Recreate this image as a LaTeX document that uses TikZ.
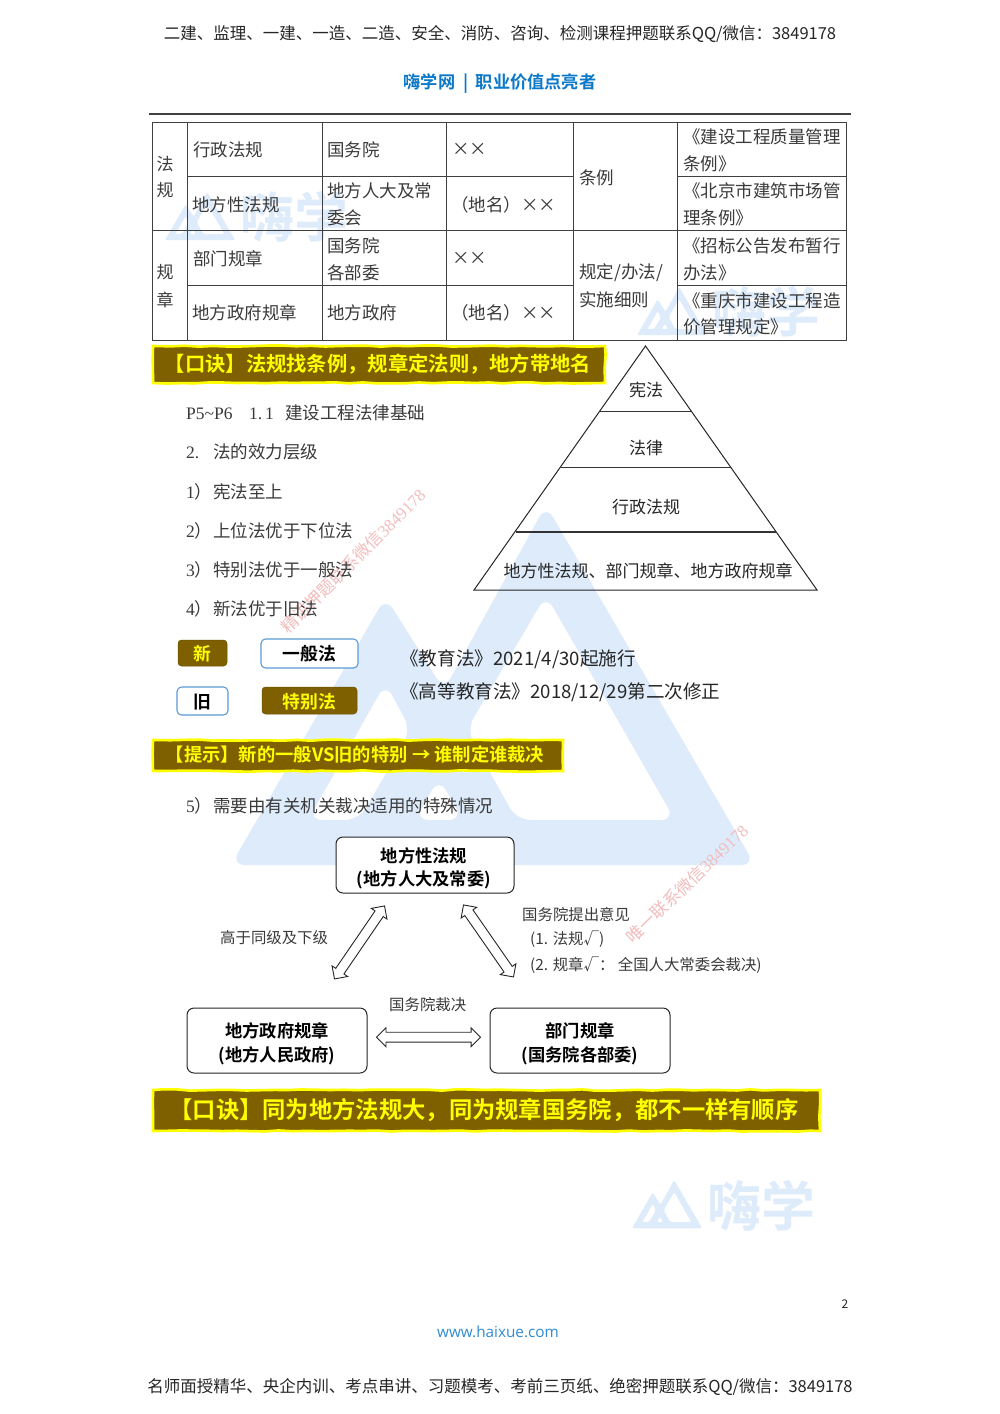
\documentclass[tikz,border=0pt]{standalone}
\usepackage{fontspec}
\usetikzlibrary{shapes.arrows,decorations.pathmorphing}
\setmainfont{Noto Sans CJK SC}[BoldFont={Noto Sans CJK SC Bold}]
\newfontfamily\serifl{Liberation Serif}
\newfontfamily\opens{Open Sans}
\definecolor{logoblue}{HTML}{DDEBFB}
\definecolor{bandbrown}{HTML}{7F6000}
\definecolor{bandyellow}{HTML}{FFFF00}
\definecolor{boxblue}{HTML}{5B9BD5}
\definecolor{bodygray}{HTML}{3A3A3A}
\definecolor{linkblue}{HTML}{0B78C8}
\definecolor{wmred}{HTML}{F2BDBD}
\newcommand{\fsz}[1]{\fontsize{#1}{#1}\selectfont}
\newcommand{\hxlogo}[4]{%
\begin{scope}[shift={(#1,#2)},scale=#3]
\fill[logoblue,even odd rule,rounded corners=#4]
 (0,865-505) -- (385.5-231,597-505) -- (444-231,690-505) -- (546-231,0) -- (755-231,865-505) -- cycle
 (546-231,595-505) -- (675-231,820-505) -- (516.5-231,820-505) -- (466.5-231,730-505) -- cycle
 (385.5-231,683-505) -- (411-231,730-505) -- (359-231,820-505) -- (308-231,820-505) -- cycle
 (439-231,778-505) -- (463-231,820-505) -- (414.5-231,820-505) -- cycle;
\end{scope}}
\newcommand{\nump}[1]{\makebox[27pt][l]{#1}}
\tikzset{
 every node/.append style={yshift=-0.6pt},
 bodytxt/.style={anchor=west,inner sep=0pt,text=bodygray,font=\fsz{17.5}},
 ctxt/.style={anchor=center,inner sep=0pt,text=bodygray,font=\fsz{17}},
 lbl/.style={anchor=west,inner sep=0pt,text=bodygray,font=\fsz{15.4}},
 gridline/.style={draw=black!75,line width=1pt},
 band/.style={fill=bandbrown,draw=bandyellow,line width=2.6pt,decorate,decoration={random steps,segment length=14pt,amplitude=0.7pt}},
 bandtxt/.style={inner sep=0pt,text=bandyellow,font=\bfseries},
 tagfill/.style={fill=bandbrown,rounded corners=3.5pt,draw=bandbrown!85!black,line width=.5pt},
 tagopen/.style={fill=white,rounded corners=4.5pt,draw=boxblue,line width=1.1pt},
 flowbox/.style={draw=black!85,fill=white,rounded corners=7pt,line width=1pt},
 flowtxt/.style={inner sep=0pt,text=black,font=\bfseries\fsz{17.3}},
 dblarrow/.style={shape=double arrow,draw=black!85,fill=white,line width=.9pt,minimum width=18pt,double arrow head extend=4.5pt,inner sep=4.5pt,sloped,midway},
 wmark/.style={inner sep=0pt,text=wmred,font=\fsz{17}},
 logotxt/.style={anchor=west,inner sep=0pt,text=logoblue,font=\bfseries\fsz{54}}
}
\begin{document}
\begin{tikzpicture}[x=1pt,y=-1pt]
\useasboundingbox (0,0) rectangle (1000,1414);
\fill[white] (0,0) rectangle (1000,1414);
% watermarks
\hxlogo{231}{505}{1}{14pt}
\hxlogo{165}{192}{.134}{2pt}
\hxlogo{637}{287}{.134}{2pt}
\hxlogo{632}{1180}{.134}{2pt}
\node[logotxt] (wmA) at (240,216) {嗨学};
\node[logotxt] (wmB) at (712,311) {嗨学};
\node[logotxt] (wmC) at (707,1205) {嗨学};
\node[wmark,rotate=45] (redA) at (353,560) {精讲押题联系微信{\serifl 3849178}};
\node[wmark,rotate=44] (redB) at (687,883) {唯一联系微信{\serifl 3849178}};
% header
\node[inner sep=0pt,text=black!85,font=\fsz{16.5}] (head) at (500,33) {二建、监理、一建、一造、二造、安全、消防、咨询、检测课程押题联系QQ/微信：3849178};
\node[inner sep=0pt,text=linkblue,font=\bfseries\fsz{17.2}] (sub) at (500,83) {嗨学网\ \ |\ \ 职业价值点亮者};
\draw[black!75,line width=1.6pt] (149,114) -- (851,114);
% table
\draw[gridline] (152,122) rectangle (846.5,340);
\foreach \gx in {187,322,446.5,573.5,677.5} \draw[gridline] (\gx,122) -- (\gx,340);
\draw[gridline] (187,176) -- (573.5,176);
\draw[gridline] (152,230.5) -- (846.5,230.5);
\draw[gridline] (187,285) -- (573.5,285);
\draw[gridline] (677.5,176) -- (846.5,176);
\draw[gridline] (677.5,285) -- (846.5,285);
\node[ctxt] (ta) at (165,163) {法};
\node[ctxt] (tb) at (165,190) {规};
\node[ctxt] (tc) at (165,272) {规};
\node[ctxt] (td) at (165,299) {章};
\node[bodytxt] (c2a) at (193,149) {行政法规};
\node[bodytxt] (c2b) at (192,204) {地方性法规};
\node[bodytxt] (c2c) at (193,258) {部门规章};
\node[bodytxt] (c2d) at (192,312) {地方政府规章};
\node[bodytxt] (c3a) at (327,149) {国务院};
\node[bodytxt] (c3b) at (327,190) {地方人大及常};
\node[bodytxt] (c3c) at (327,217) {委会};
\node[bodytxt] (c3d) at (327,245) {国务院};
\node[bodytxt] (c3e) at (327,272) {各部委};
\node[bodytxt] (c3f) at (327,312) {地方政府};
\node[bodytxt] (c4a) at (452,149) {××};
\node[bodytxt] (c4b) at (451,204) {（地名）××};
\node[bodytxt] (c4c) at (452,258) {××};
\node[bodytxt] (c4d) at (451,312) {（地名）××};
\node[bodytxt] (c5a) at (579,177) {条例};
\node[bodytxt] (c5b) at (579,272) {规定/办法/};
\node[bodytxt] (c5c) at (579,299) {实施细则};
\node[bodytxt] (c6a) at (683,136) {《建设工程质量管理};
\node[bodytxt] (c6b) at (683,163) {条例》};
\node[bodytxt] (c6c) at (683,190) {《北京市建筑市场管};
\node[bodytxt] (c6d) at (683,217) {理条例》};
\node[bodytxt] (c6e) at (683,245) {《招标公告发布暂行};
\node[bodytxt] (c6f) at (683,272) {办法》};
\node[bodytxt] (c6g) at (683,300) {《重庆市建设工程造};
\node[bodytxt] (c6h) at (683,326) {价管理规定》};
% band 1
\draw[band] (153,346) rectangle (605,383);
\node[bandtxt,font=\bfseries\fsz{20.3}] (bandA) at (378,363.5) {【口诀】法规找条例，规章定法则，地方带地名};
% pyramid
\draw[black!85,line width=1pt,line join=miter] (645.5,346) -- (817,590) -- (474,590) -- cycle;
\draw[black!80,line width=1pt] (600,411) -- (691,411);
\draw[black!80,line width=1pt] (561,467) -- (731,467);
\draw[black!80,line width=1.4pt] (516,532) -- (776,532);
\node[ctxt,text=black!85] (pa) at (646,389) {宪法};
\node[ctxt,text=black!85] (pb) at (646,447) {法律};
\node[ctxt,text=black!85] (pc) at (646,506) {行政法规};
\node[ctxt,text=black!85] (pd) at (648,570) {地方性法规、部门规章、地方政府规章};
% body text
\node[bodytxt] (l1) at (186,412) {\makebox[63pt][l]{{\serifl P5\textasciitilde P6}}\makebox[36pt][l]{{\serifl 1.\,1}}建设工程法律基础};
\node[bodytxt] (l2) at (186,451) {\nump{{\serifl 2.}}法的效力层级};
\node[bodytxt] (l3) at (186,491) {\nump{{\serifl 1}）}宪法至上};
\node[bodytxt] (l4) at (186,530) {\nump{{\serifl 2}）}上位法优于下位法};
\node[bodytxt] (l5) at (186,569) {\nump{{\serifl 3}）}特别法优于一般法};
\node[bodytxt] (l6) at (186,608) {\nump{{\serifl 4}）}新法优于旧法};
\node[bodytxt] (l7) at (186,805) {\nump{{\serifl 5}）}需要由有关机关裁决适用的特殊情况};
% tags
\draw[tagfill] (178,640) rectangle (227,666);
\node[bandtxt,font=\bfseries\fsz{17.8}] (tagA) at (202.5,653.5) {新};
\draw[tagopen] (261,639) rectangle (358,668);
\node[flowtxt,font=\bfseries\fsz{17.8}] (tagB) at (309.5,653.5) {一般法};
\draw[tagopen] (177,687) rectangle (228,715);
\node[flowtxt,font=\bfseries\fsz{17.8}] (tagC) at (202.5,701) {旧};
\draw[tagfill] (262,687) rectangle (357,714);
\node[bandtxt,font=\bfseries\fsz{17.8}] (tagD) at (309.5,701) {特别法};
\node[anchor=west,inner sep=0pt,text=black!85,font=\fsz{18.6}] (ea) at (400,659) {《教育法》2021/4/30起施行};
\node[anchor=west,inner sep=0pt,text=black!85,font=\fsz{18.6}] (eb) at (400,692) {《高等教育法》2018/12/29第二次修正};
% band 2
\draw[band] (153,740) rectangle (563,771);
\node[bandtxt,font=\bfseries\fsz{18.3}] (bandB) at (355,754) {【提示】新的一般VS旧的特别 → 谁制定谁裁决};
% flow
\draw[flowbox] (336,837) rectangle (514,893);
\node[flowtxt] (topA) at (424,855) {地方性法规};
\node[flowtxt] (topB) at (424,879) {(地方人大及常委)};
\draw[flowbox] (187,1008) rectangle (367,1073);
\node[flowtxt] (leftA) at (277,1030) {地方政府规章};
\node[flowtxt] (leftB) at (277,1055) {(地方人民政府)};
\draw[flowbox] (490,1008) rectangle (670,1073);
\node[flowtxt] (rightA) at (580,1030) {部门规章};
\node[flowtxt] (rightB) at (580,1055) {(国务院各部委)};
\coordinate (a1s) at (384,905);
\coordinate (a1e) at (334,978);
\coordinate (a2s) at (464,904);
\coordinate (a2e) at (514,976);
\coordinate (a3s) at (376.5,1036);
\coordinate (a3e) at (480.5,1036);
\path (a1s) -- (a1e) node[dblarrow,minimum height=88.5pt] (arrA) {};
\path (a2s) -- (a2e) node[dblarrow,minimum height=87.7pt] (arrB) {};
\path (a3s) -- (a3e) node[dblarrow,minimum height=104pt] (arrC) {};
\node[lbl] (fa) at (220,937) {高于同级及下级};
\node[lbl] (fb) at (522,914) {国务院提出意见};
\node[lbl] (fc) at (530,939) {(1. 法规√)};
\node[lbl] (fd) at (530,965) {(2. 规章√： 全国人大常委会裁决)};
\node[lbl] (fe) at (389,1004) {国务院裁决};
% band 3
\draw[band] (153,1090) rectangle (820,1131);
\node[bandtxt,font=\bfseries\fsz{23.3}] (bandC) at (484,1109.5) {【口诀】同为地方法规大，同为规章国务院，都不一样有顺序};
% footer
\node[inner sep=0pt,text=black!85,font=\fsz{12}] (pg) at (845,1304) {2};
\node[inner sep=0pt,text=linkblue!85!white,font=\opens\fsz{15.3}] (web) at (498,1331) {www.haixue.com};
\node[inner sep=0pt,text=black!85,font=\fsz{16.5}] (foot) at (500,1386) {名师面授精华、央企内训、考点串讲、习题模考、考前三页纸、绝密押题联系QQ/微信：3849178};
\end{tikzpicture}
\end{document}
